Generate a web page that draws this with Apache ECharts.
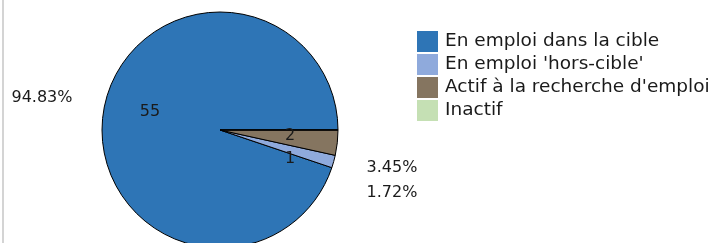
<!DOCTYPE html>
<html>
<head>
<meta charset="utf-8">
<script src="https://cdn.jsdelivr.net/npm/echarts@6/dist/echarts.min.js"></script>
<style>
  html, body { margin: 0; padding: 0; background: #fff; }
  #chart { width: 712px; height: 243px; }
</style>
</head>
<body>
<div id="chart"></div>
<script>
// categories and counts
var categories = ['En emploi dans la cible', "En emploi 'hors-cible'", "Actif à la recherche d'emploi", 'Inactif'];
var counts = [55, 1, 2, 0];
var colors = ['#2e75b6', '#8faadc', '#857560', '#c5e0b4'];

// where the labels sit (style only)
var countPos = [[150, 112], [290, 159], [290, 136], null];
var pctPos = [[42, 98], [392, 193], [392, 168], null];

var pieData = categories.map(function (name, i) {
  return { name: name, value: counts[i] };
});

var font = 'DejaVu Sans';

function placeAt(list) {
  return function (params) {
    var pos = list[params.dataIndex];
    if (!pos) return {};
    return { x: pos[0], y: pos[1], align: 'center', verticalAlign: 'middle', hideOverlap: false };
  };
}

var chart = echarts.init(document.getElementById('chart'));
chart.setOption({
  animation: false,
  color: colors,
  graphic: [{
    type: 'rect',
    shape: { x: 2, y: 0, width: 2, height: 243 },
    style: { fill: '#d4d4d4' }
  }],
  legend: {
    orient: 'vertical',
    left: 417,
    top: 31,
    padding: 0,
    itemWidth: 21,
    itemHeight: 21,
    itemGap: 2,
    icon: 'rect',
    selectedMode: false,
    itemStyle: { borderWidth: 0 },
    textStyle: { fontFamily: font, fontSize: 18.5, color: '#1a1a1a', padding: [0, 0, 0, 2] },
    data: categories
  },
  series: [
    {
      // the pie itself
      type: 'pie',
      center: [220, 130],
      radius: 118,
      startAngle: 0,
      clockwise: false,
      silent: true,
      avoidLabelOverlap: false,
      itemStyle: { borderColor: '#000', borderWidth: 1 },
      label: { show: false },
      labelLine: { show: false },
      data: pieData
    },
    {
      // counts, drawn inside the slices
      type: 'pie',
      center: [220, 130],
      radius: 118,
      startAngle: 0,
      clockwise: false,
      silent: true,
      avoidLabelOverlap: false,
      legendHoverLink: false,
      itemStyle: { color: 'rgba(0,0,0,0)', borderWidth: 0 },
      label: {
        show: true,
        position: 'inside',
        fontFamily: font,
        fontSize: 16,
        color: '#1a1a1a',
        overflow: 'none',
        formatter: function (p) { return p.value ? String(p.value) : ''; }
      },
      labelLine: { show: false },
      labelLayout: placeAt(countPos),
      data: pieData.map(function (d) { return { name: d.name + ' ', value: d.value }; })
    },
    {
      // percentages, outside
      type: 'pie',
      center: [220, 130],
      radius: 118,
      startAngle: 0,
      clockwise: false,
      silent: true,
      avoidLabelOverlap: false,
      itemStyle: { color: 'rgba(0,0,0,0)', borderWidth: 0 },
      label: {
        show: true,
        position: 'outside',
        fontFamily: font,
        fontSize: 16,
        color: '#1a1a1a',
        overflow: 'none',
        formatter: function (p) { return p.value ? p.percent.toFixed(2) + '%' : ''; }
      },
      labelLine: { show: false },
      labelLayout: placeAt(pctPos),
      data: pieData.map(function (d) { return { name: d.name + '  ', value: d.value }; })
    }
  ]
});
</script>
</body>
</html>
